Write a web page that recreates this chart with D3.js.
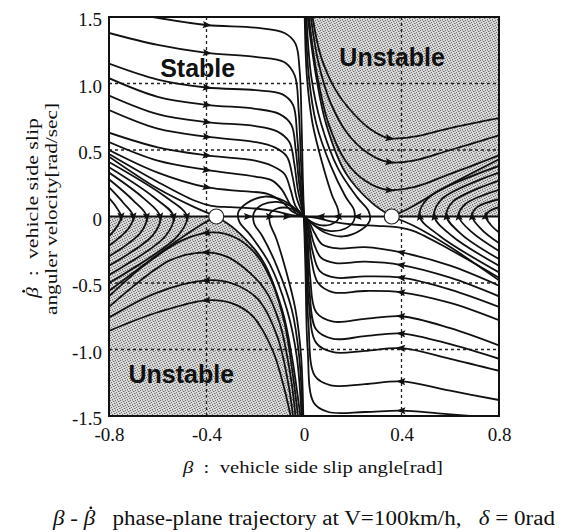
<!DOCTYPE html>
<html lang="en">
<head>
<meta charset="UTF-8">
<title>Phase-plane trajectory</title>
<script src="https://d3js.org/d3.v7.min.js"></script>
<style>
    body { margin: 0; background: #fff; }
    svg { display: block; }
    .traj { fill: none; stroke: #111; stroke-width: 1.8px; }
    .grid { stroke: #222; stroke-width: 1.3px; stroke-dasharray: 3,3; }
    .tick text { font-family: "Liberation Serif", serif; font-size: 19px; fill: #111; }
    .region { font-family: "Liberation Sans", Arial, sans-serif; font-weight: bold; font-size: 25px; fill: #111; }
    .title { font-family: "Liberation Serif", serif; fill: #111; white-space: pre; }
</style>
</head>
<body>
<svg width="565" height="532"></svg>
<script>
// ---- data ----
const xTicks = [-0.8, -0.4, 0, 0.4, 0.8];
const xTickLabels = ["-0.8", "-0.4", "0", "0.4", "0.8"];
const yTicks = [1.5, 1.0, 0.5, 0, -0.5, -1.0, -1.5];
const yTickLabels = ["1.5", "1.0", "0.5", "0", "-0.5", "-1.0", "-1.5"];
const gridX = [-0.4, 0.4];
const gridY = [1.0, 0.5, -0.5, -1.0];
const saddles = [[-0.36, 0], [0.36, 0]];

// separatrices bounding the shaded "Unstable" regions
const boundaryTop = [[0.015, 1.5], [0.05, 1.05], [0.09, 0.7], [0.17, 0.33], [0.28, 0.1], [0.36, 0]];
const boundaryBottom = [[-0.015, -1.5], [-0.05, -1.05], [-0.09, -0.7], [-0.17, -0.33], [-0.28, -0.1], [-0.36, 0]];
const separatrixOther = [
    [[-0.8, 0.45], [-0.6, 0.21], [-0.45, 0.07], [-0.36, 0]],
    [[-0.36, 0], [-0.42, -0.06], [-0.55, -0.22], [-0.8, -0.56]],
    [[0.8, -0.48], [0.6, -0.23], [0.45, -0.07], [0.36, 0]],
    [[0.36, 0], [0.43, 0.06], [0.56, 0.2], [0.8, 0.43]]
];

// upper-left stable region, flowing right
const upperLeft = [
    [[-0.62, 1.5], [-0.4, 1.44], [-0.2, 1.42], [-0.08, 1.38], [-0.035, 1.3], [-0.018, 1.1], [-0.01, 0.7], [-0.005, 0.3], [0, 0]],
    [[-0.8, 1.38], [-0.6, 1.29], [-0.4, 1.23], [-0.2, 1.2], [-0.08, 1.16], [-0.038, 1.06], [-0.022, 0.8], [-0.012, 0.4], [0, 0]],
    [[-0.8, 1.15], [-0.6, 1.03], [-0.4, 0.97], [-0.2, 0.95], [-0.09, 0.92], [-0.045, 0.84], [-0.028, 0.6], [-0.016, 0.3], [0, 0]],
    [[-0.8, 1.04], [-0.6, 0.9], [-0.4, 0.84], [-0.2, 0.81], [-0.1, 0.77], [-0.052, 0.69], [-0.034, 0.5], [-0.02, 0.25], [0, 0]],
    [[-0.8, 0.91], [-0.6, 0.77], [-0.4, 0.71], [-0.2, 0.68], [-0.11, 0.64], [-0.06, 0.56], [-0.04, 0.4], [-0.025, 0.2], [0, 0]],
    [[-0.8, 0.8], [-0.6, 0.66], [-0.4, 0.6], [-0.2, 0.56], [-0.12, 0.52], [-0.07, 0.45], [-0.047, 0.3], [-0.03, 0.14], [0, 0]],
    [[-0.8, 0.63], [-0.6, 0.52], [-0.4, 0.46], [-0.2, 0.42], [-0.13, 0.38], [-0.08, 0.32], [-0.055, 0.2], [-0.035, 0.08], [0, 0]],
    [[-0.8, 0.56], [-0.6, 0.42], [-0.4, 0.35], [-0.2, 0.3], [-0.13, 0.27], [-0.09, 0.2], [-0.06, 0.1], [-0.03, 0.02], [0, 0]],
    [[-0.8, 0.5], [-0.6, 0.33], [-0.4, 0.22], [-0.25, 0.19], [-0.15, 0.17], [-0.09, 0.11], [-0.05, 0.04], [0, 0]]
];
// lines hugging the saddles on their way to the origin
const nearSaddle = [
    [[-0.8, 0.47], [-0.6, 0.26], [-0.45, 0.12], [-0.38, 0.08], [-0.3, 0.07], [-0.2, 0.06], [-0.12, 0.04], [-0.05, 0.01], [0, 0]],
    [[0.8, -0.46], [0.6, -0.25], [0.45, -0.11], [0.38, -0.08], [0.3, -0.07], [0.2, -0.06], [0.12, -0.04], [0.05, -0.01], [0, 0]]
];
// left fan: down-right, cross the beta axis, then down-left
const leftFan = [
    [[-0.8, 0.14], [-0.77, 0.07], [-0.75, 0], [-0.765, -0.07], [-0.8, -0.15]],
    [[-0.8, 0.22], [-0.74, 0.1], [-0.7, 0], [-0.72, -0.09], [-0.8, -0.22]],
    [[-0.8, 0.28], [-0.7, 0.12], [-0.645, 0], [-0.67, -0.12], [-0.8, -0.3]],
    [[-0.8, 0.33], [-0.66, 0.14], [-0.59, 0], [-0.62, -0.14], [-0.8, -0.37]],
    [[-0.8, 0.37], [-0.62, 0.15], [-0.535, 0], [-0.57, -0.15], [-0.8, -0.44]],
    [[-0.8, 0.41], [-0.57, 0.15], [-0.48, 0], [-0.52, -0.15], [-0.8, -0.5]]
];
// lower-left shaded arcs, flowing left
const lowerLeftArcs = [
    [[-0.025, -1.5], [-0.045, -1.2], [-0.08, -0.8], [-0.13, -0.5], [-0.19, -0.3], [-0.28, -0.16], [-0.38, -0.12], [-0.5, -0.18], [-0.65, -0.36], [-0.8, -0.6]],
    [[-0.035, -1.5], [-0.055, -1.2], [-0.1, -0.8], [-0.16, -0.55], [-0.25, -0.38], [-0.32, -0.3], [-0.4, -0.27], [-0.55, -0.33], [-0.8, -0.68]],
    [[-0.045, -1.5], [-0.065, -1.25], [-0.11, -0.9], [-0.19, -0.62], [-0.3, -0.5], [-0.4, -0.48], [-0.6, -0.57], [-0.8, -0.76]],
    [[-0.055, -1.5], [-0.08, -1.3], [-0.13, -1.0], [-0.21, -0.75], [-0.3, -0.65], [-0.4, -0.63], [-0.6, -0.72], [-0.8, -0.86]]
];
// white strip between the lower-left separatrix and the centre band
const lowerStrip = [
    [[-0.01, -1.5], [-0.03, -1.05], [-0.07, -0.7], [-0.14, -0.36], [-0.22, -0.14], [-0.265, -0.04], [-0.27, 0.03], [-0.235, 0.1], [-0.16, 0.15], [-0.085, 0.12], [-0.03, 0.05], [0, 0]],
    [[-0.006, -1.5], [-0.02, -1.05], [-0.05, -0.7], [-0.11, -0.38], [-0.17, -0.15], [-0.205, -0.05], [-0.205, 0.03], [-0.17, 0.09], [-0.11, 0.11], [-0.055, 0.08], [-0.02, 0.03], [0, 0]],
    [[-0.003, -1.5], [-0.012, -1.05], [-0.035, -0.7], [-0.075, -0.4], [-0.115, -0.16], [-0.14, -0.05], [-0.14, 0.02], [-0.11, 0.06], [-0.065, 0.065], [-0.03, 0.04], [0, 0]]
];
// upper-right shaded V-lines, flowing right
const upperRightV = [
    [[0.035, 1.5], [0.07, 1.2], [0.13, 0.95], [0.2, 0.78], [0.27, 0.66], [0.345, 0.59], [0.45, 0.6], [0.6, 0.665], [0.8, 0.74]],
    [[0.028, 1.5], [0.06, 1.15], [0.11, 0.85], [0.18, 0.62], [0.26, 0.48], [0.345, 0.41], [0.45, 0.42], [0.6, 0.5], [0.8, 0.61]],
    [[0.02, 1.5], [0.05, 1.1], [0.1, 0.7], [0.17, 0.42], [0.25, 0.27], [0.34, 0.2], [0.45, 0.22], [0.6, 0.32], [0.8, 0.46]]
];
// white strip between the upper-right separatrix and the centre band
const upperStrip = [
    [[0.01, 1.5], [0.03, 1.05], [0.07, 0.7], [0.14, 0.36], [0.22, 0.14], [0.265, 0.04], [0.27, -0.03], [0.235, -0.1], [0.16, -0.15], [0.085, -0.12], [0.03, -0.05], [0, 0]],
    [[0.006, 1.5], [0.02, 1.05], [0.05, 0.7], [0.11, 0.38], [0.17, 0.15], [0.205, 0.05], [0.205, -0.03], [0.17, -0.09], [0.11, -0.11], [0.055, -0.08], [0.02, -0.03], [0, 0]],
    [[0.003, 1.5], [0.012, 1.05], [0.035, 0.7], [0.075, 0.4], [0.115, 0.16], [0.14, 0.05], [0.14, -0.02], [0.11, -0.06], [0.065, -0.065], [0.03, -0.04], [0, 0]]
];
// right fan: up-left, cross the beta axis, then up-right
const rightFan = [
    [[0.8, -0.12], [0.765, -0.06], [0.745, 0], [0.76, 0.04], [0.8, 0.07]],
    [[0.8, -0.2], [0.73, -0.1], [0.69, 0], [0.71, 0.07], [0.8, 0.13]],
    [[0.8, -0.26], [0.69, -0.12], [0.635, 0], [0.66, 0.09], [0.8, 0.2]],
    [[0.8, -0.32], [0.65, -0.14], [0.585, 0], [0.61, 0.11], [0.8, 0.27]],
    [[0.8, -0.37], [0.61, -0.15], [0.535, 0], [0.565, 0.13], [0.8, 0.33]],
    [[0.8, -0.42], [0.56, -0.15], [0.475, 0], [0.51, 0.14], [0.8, 0.38]]
];
// lower-right stable region, flowing left
const lowerRight = [
    [[0.8, -0.52], [0.6, -0.37], [0.4, -0.27], [0.25, -0.23], [0.14, -0.24], [0.075, -0.21], [0.045, -0.13], [0.02, -0.04], [0, 0]],
    [[0.8, -0.6], [0.6, -0.46], [0.4, -0.365], [0.25, -0.34], [0.13, -0.35], [0.07, -0.31], [0.04, -0.2], [0.02, -0.06], [0, 0]],
    [[0.8, -0.68], [0.6, -0.55], [0.4, -0.46], [0.25, -0.45], [0.13, -0.46], [0.065, -0.41], [0.035, -0.26], [0.018, -0.08], [0, 0]],
    [[0.8, -0.78], [0.6, -0.65], [0.4, -0.57], [0.25, -0.56], [0.12, -0.57], [0.058, -0.5], [0.03, -0.32], [0.016, -0.1], [0, 0]],
    [[0.8, -0.97], [0.6, -0.84], [0.4, -0.75], [0.25, -0.77], [0.12, -0.79], [0.05, -0.72], [0.025, -0.45], [0.014, -0.15], [0, 0]],
    [[0.8, -1.07], [0.6, -0.96], [0.4, -0.88], [0.25, -0.9], [0.12, -0.92], [0.05, -0.85], [0.022, -0.55], [0.012, -0.2], [0, 0]],
    [[0.8, -1.16], [0.6, -1.07], [0.4, -0.99], [0.25, -1.01], [0.12, -1.02], [0.05, -0.95], [0.02, -0.65], [0.01, -0.25], [0, 0]],
    [[0.8, -1.38], [0.6, -1.31], [0.4, -1.24], [0.25, -1.26], [0.11, -1.27], [0.045, -1.2], [0.018, -0.8], [0.008, -0.3], [0, 0]],
    [[0.68, -1.5], [0.55, -1.48], [0.4, -1.46], [0.25, -1.47], [0.1, -1.47], [0.04, -1.4], [0.015, -1.0], [0.006, -0.4], [0, 0]]
];
// arrows lying on the beta axis between saddles and origin: [beta, direction]
const axisArrows = [[-0.23, 1], [-0.14, 1], [-0.07, 1], [0.07, -1], [0.14, -1], [0.22, -1]];

// ---- drawing ----
const svg = d3.select("svg");
const x = d3.scaleLinear().domain([-0.8, 0.8]).range([109, 499]);
const y = d3.scaleLinear().domain([-1.5, 1.5]).range([416, 17]);

const defs = svg.append("defs");
const pat = defs.append("pattern").attr("id", "stipple")
    .attr("width", 5).attr("height", 5).attr("patternUnits", "userSpaceOnUse");
pat.append("rect").attr("width", 5).attr("height", 5).attr("fill", "#d9d9d9");
[[0, 0], [3, 1], [1, 2], [4, 3], [2, 4]].forEach(p =>
    pat.append("rect").attr("x", p[0]).attr("y", p[1]).attr("width", 1).attr("height", 1).attr("fill", "#707070"));
[[2, 0], [0, 3], [4, 1]].forEach(p =>
    pat.append("rect").attr("x", p[0]).attr("y", p[1]).attr("width", 1).attr("height", 1).attr("fill", "#a8a8a8"));
defs.append("clipPath").attr("id", "plot").append("rect")
    .attr("x", x(-0.8)).attr("y", y(1.5))
    .attr("width", x(0.8) - x(-0.8)).attr("height", y(-1.5) - y(1.5));

const line = d3.line().x(d => x(d[0])).y(d => y(d[1])).curve(d3.curveCatmullRom.alpha(0.5));

// shaded unstable regions
svg.append("path").attr("fill", "url(#stipple)")
    .attr("d", line(boundaryTop) + `L${x(0.8)},${y(0)}L${x(0.8)},${y(1.5)}Z`);
svg.append("path").attr("fill", "url(#stipple)")
    .attr("d", line(boundaryBottom) + `L${x(-0.8)},${y(0)}L${x(-0.8)},${y(-1.5)}Z`);

// dotted grid
svg.selectAll(".gx").data(gridX).enter().append("line").attr("class", "grid")
    .attr("x1", d => x(d)).attr("x2", d => x(d)).attr("y1", y(1.5)).attr("y2", y(-1.5));
svg.selectAll(".gy").data(gridY).enter().append("line").attr("class", "grid")
    .attr("y1", d => y(d)).attr("y2", d => y(d)).attr("x1", x(-0.8)).attr("x2", x(0.8));

const plot = svg.append("g").attr("clip-path", "url(#plot)");

const families = [
    {curves: upperLeft, arrow: ["x", -0.4]},
    {curves: nearSaddle, arrow: null},
    {curves: leftFan, arrow: ["y", 0]},
    {curves: lowerLeftArcs, arrow: ["x", -0.4]},
    {curves: lowerStrip, arrow: null},
    {curves: upperRightV, arrow: ["x", 0.35]},
    {curves: upperStrip, arrow: null},
    {curves: rightFan, arrow: ["y", 0]},
    {curves: lowerRight, arrow: ["x", 0.4]},
    {curves: [boundaryTop, boundaryBottom].concat(separatrixOther), arrow: null}
];

const arrowShape = "M5,0L-4,-3.6L-2.4,0L-4,3.6Z";
const arrows = [];

families.forEach(fam => {
    fam.curves.forEach(c => {
        const p = plot.append("path").attr("class", "traj").attr("d", line(c));
        if (!fam.arrow) return;
        const node = p.node();
        const total = node.getTotalLength();
        const axis = fam.arrow[0];
        const target = axis === "x" ? x(fam.arrow[1]) : y(fam.arrow[1]);
        let prev = node.getPointAtLength(0);
        for (let s = 0.5; s <= total; s += 0.5) {
            const cur = node.getPointAtLength(s);
            if ((prev[axis] - target) * (cur[axis] - target) <= 0 && prev[axis] !== cur[axis]) {
                const a = node.getPointAtLength(Math.max(0, s - 3));
                const b = node.getPointAtLength(Math.min(total, s + 3));
                arrows.push({x: cur.x, y: cur.y, angle: Math.atan2(b.y - a.y, b.x - a.x) * 180 / Math.PI});
                break;
            }
            prev = cur;
        }
    });
});

// beta axis
svg.append("line").attr("x1", x(-0.8)).attr("x2", x(0.8)).attr("y1", y(0)).attr("y2", y(0))
    .attr("stroke", "#111").attr("stroke-width", 2.2);

axisArrows.forEach(d => arrows.push({x: x(d[0]), y: y(0), angle: d[1] > 0 ? 0 : 180}));

svg.selectAll(".arrow").data(arrows).enter().append("path")
    .attr("d", arrowShape).attr("fill", "#111")
    .attr("transform", d => `translate(${d.x},${d.y}) rotate(${d.angle})`);

// saddle points
svg.selectAll(".saddle").data(saddles).enter().append("circle")
    .attr("cx", d => x(d[0])).attr("cy", d => y(d[1])).attr("r", 7.5)
    .attr("fill", "#fff").attr("stroke", "#222").attr("stroke-width", 1.2);

// frame
svg.append("rect").attr("x", x(-0.8)).attr("y", y(1.5))
    .attr("width", x(0.8) - x(-0.8)).attr("height", y(-1.5) - y(1.5))
    .attr("fill", "none").attr("stroke", "#111").attr("stroke-width", 2);

// region labels
svg.append("text").attr("class", "region").attr("x", x(-0.59)).attr("y", y(1.05)).text("Stable");
svg.append("text").attr("class", "region").attr("x", x(0.145)).attr("y", y(1.13)).text("Unstable");
svg.append("text").attr("class", "region").attr("x", x(-0.72)).attr("y", y(-1.25)).text("Unstable");

// axes
const yAxis = svg.append("g").attr("transform", `translate(${x(-0.8)},0)`)
    .call(d3.axisLeft(y).tickValues(yTicks).tickFormat((d, i) => yTickLabels[i]).tickSize(0).tickPadding(7));
yAxis.select(".domain").remove();
yAxis.selectAll("text").attr("dy", "0.45em");
const xAxis = svg.append("g").attr("transform", `translate(0,${y(-1.5)})`)
    .call(d3.axisBottom(x).tickValues(xTicks).tickFormat((d, i) => xTickLabels[i]).tickSize(0).tickPadding(12));
xAxis.select(".domain").remove();

// put a small dot over the character at charIndex (beta-dot)
function dotOver(group, textSel, charIndex, fontSize) {
    const ext = textSel.node().getExtentOfChar(charIndex);
    group.append("circle")
        .attr("cx", ext.x + ext.width * 0.62)
        .attr("cy", ext.y + fontSize * 0.04)
        .attr("r", 1.4).attr("fill", "#111");
}

// axis titles
const xt = svg.append("text").attr("class", "title").attr("x", 183).attr("y", 473)
    .attr("font-size", 16).attr("textLength", 260).attr("lengthAdjust", "spacingAndGlyphs");
xt.append("tspan").attr("font-style", "italic").text("\u03B2");
xt.append("tspan").text("  :  vehicle side slip angle[rad]");

const yg1 = svg.append("g").attr("transform", "translate(38,298) rotate(-90)");
const yt1 = yg1.append("text").attr("class", "title").attr("font-size", 17)
    .attr("textLength", 180).attr("lengthAdjust", "spacingAndGlyphs");
yt1.append("tspan").attr("font-style", "italic").text("\u03B2");
yt1.append("tspan").text("  :  vehicle side slip");
dotOver(yg1, yt1, 0, 17);

svg.append("text").attr("class", "title").attr("font-size", 16)
    .attr("transform", "translate(57,315) rotate(-90)")
    .attr("textLength", 212).attr("lengthAdjust", "spacingAndGlyphs")
    .text("anguler velocity[rad/sec]");

const cap = svg.append("text").attr("class", "title").attr("x", 53).attr("y", 525)
    .attr("font-size", 20).attr("textLength", 502).attr("lengthAdjust", "spacingAndGlyphs");
cap.append("tspan").attr("font-style", "italic").text("\u03B2");
cap.append("tspan").text(" - ");
cap.append("tspan").attr("font-style", "italic").text("\u03B2");
cap.append("tspan").text("   phase-plane trajectory at V=100km/h,   ");
cap.append("tspan").attr("font-style", "italic").text("\u03B4");
cap.append("tspan").text(" = 0rad");
dotOver(svg, cap, 4, 20);
</script>
</body>
</html>
